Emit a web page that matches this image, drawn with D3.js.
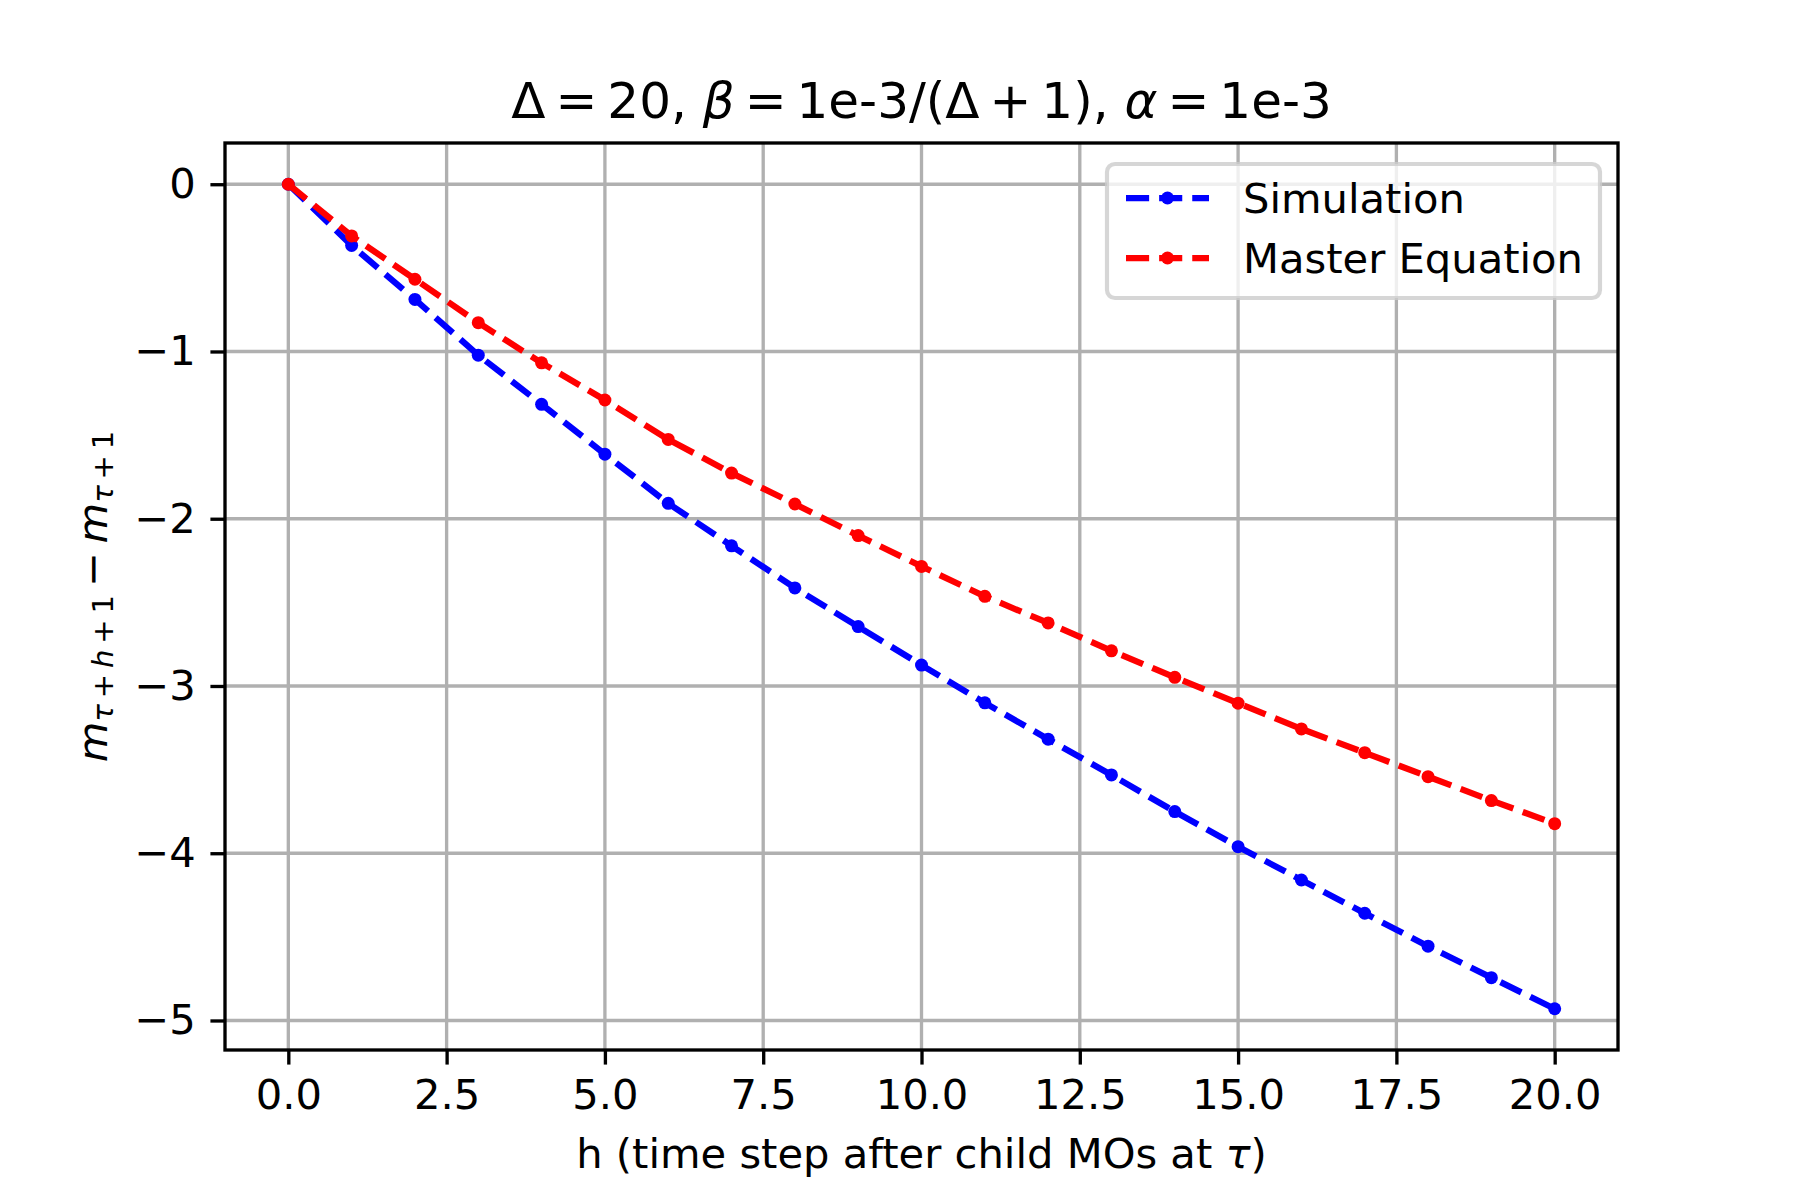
<!DOCTYPE html>
<html>
<head>
<meta charset="utf-8">
<script src="https://cdn.jsdelivr.net/npm/d3@7"></script>
<style>
  html, body { margin: 0; padding: 0; background: #fff; }
  svg { display: block; font-family: "DejaVu Sans", sans-serif; }
</style>
</head>
<body>
<div id="chart"></div>
<script>
// DATA
const steps      = [0, 1, 2, 3, 4, 5, 6, 7, 8, 9, 10, 11, 12, 13, 14, 15, 16, 17, 18, 19, 20];
const simulation = [0, -0.366, -0.689, -1.022, -1.316, -1.614, -1.908, -2.162, -2.414, -2.645, -2.875,
                    -3.101, -3.318, -3.532, -3.751, -3.961, -4.160, -4.359, -4.556, -4.744, -4.930];
const master     = [0, -0.309, -0.568, -0.828, -1.068, -1.290, -1.526, -1.727, -1.912, -2.101, -2.285,
                    -2.464, -2.623, -2.790, -2.948, -3.103, -3.257, -3.399, -3.542, -3.685, -3.823];
const x_ticks    = [0, 2.5, 5, 7.5, 10, 12.5, 15, 17.5, 20];
const y_ticks    = [0, -1, -2, -3, -4, -5];
const series_names  = ["Simulation", "Master Equation"];
const series_colors = ["#0000ff", "#ff0000"];

// LAYOUT (matplotlib-ish, 300 dpi)
const W = 1800, H = 1200;
const pt = 300 / 72;
const box = { left: 225, right: 1618, top: 143, bottom: 1050 };
const fs = 10 * pt;
const thin = "\u2009"; // math spacing around = and +

const svg = d3.select("#chart").append("svg")
  .attr("width", W).attr("height", H)
  .attr("viewBox", `0 0 ${W} ${H}`);

const padded = (lo, hi) => { const m = (hi - lo) * 0.05; return [lo - m, hi + m]; };
const all_y = simulation.concat(master);

const x = d3.scaleLinear().domain(padded(d3.min(steps), d3.max(steps)))
  .range([box.left, box.right]);
const y = d3.scaleLinear().domain(padded(d3.min(all_y), d3.max(all_y)))
  .range([box.bottom, box.top]);

// grid
const grid = svg.append("g").attr("stroke", "#b0b0b0").attr("stroke-width", 0.8 * pt);
grid.selectAll(".gx").data(x_ticks).enter().append("line")
  .attr("x1", d => x(d)).attr("x2", d => x(d))
  .attr("y1", box.top).attr("y2", box.bottom);
grid.selectAll(".gy").data(y_ticks).enter().append("line")
  .attr("y1", d => y(d)).attr("y2", d => y(d))
  .attr("x1", box.left).attr("x2", box.right);

// lines
const dash = `${3.7 * 1.5 * pt} ${1.6 * 1.5 * pt}`;
const line = d3.line().x((d, i) => x(steps[i])).y(d => y(d));

[simulation, master].forEach((vals, k) => {
  const g = svg.append("g");
  g.append("path")
    .attr("d", line(vals))
    .attr("fill", "none")
    .attr("stroke", series_colors[k])
    .attr("stroke-width", 1.5 * pt)
    .attr("stroke-dasharray", dash);
  g.selectAll("circle").data(vals).enter().append("circle")
    .attr("cx", (d, i) => x(steps[i]))
    .attr("cy", d => y(d))
    .attr("r", 6.5)
    .attr("fill", series_colors[k]);
});

// axes
const tick_len = 3.5 * pt;
const xAxis = svg.append("g")
  .attr("transform", `translate(0,${box.bottom})`)
  .call(d3.axisBottom(x).tickValues(x_ticks).tickFormat(d3.format(".1f"))
    .tickSize(tick_len).tickPadding(tick_len));
const yAxis = svg.append("g")
  .attr("transform", `translate(${box.left},0)`)
  .call(d3.axisLeft(y).tickValues(y_ticks).tickFormat(d3.format("d"))
    .tickSize(tick_len).tickPadding(tick_len));

[xAxis, yAxis].forEach(a => {
  a.select(".domain").remove();
  a.selectAll(".tick line").attr("stroke", "#000").attr("stroke-width", 0.8 * pt);
  a.selectAll(".tick text")
    .attr("fill", "#000")
    .style("font-family", "DejaVu Sans")
    .style("font-size", fs + "px");
});

// frame
svg.append("rect")
  .attr("x", box.left).attr("y", box.top)
  .attr("width", box.right - box.left).attr("height", box.bottom - box.top)
  .attr("fill", "none").attr("stroke", "#000").attr("stroke-width", 0.8 * pt);

// title
const title = svg.append("text")
  .attr("x", (box.left + box.right) / 2).attr("y", 118)
  .attr("text-anchor", "middle")
  .style("font-size", 12 * pt + "px");
title.append("tspan").text(`Δ${thin}=${thin}20, `);
title.append("tspan").attr("font-style", "italic").text("β");
title.append("tspan").text(`${thin}=${thin}1e-3/(Δ${thin}+${thin}1), `);
title.append("tspan").attr("font-style", "italic").text("α");
title.append("tspan").text(`${thin}=${thin}1e-3`);

// x label
const xlab = svg.append("text")
  .attr("x", (box.left + box.right) / 2).attr("y", 1168)
  .attr("text-anchor", "middle")
  .style("font-size", fs + "px");
xlab.append("tspan").text("h (time step after child MOs at ");
xlab.append("tspan").attr("font-style", "italic").text("τ");
xlab.append("tspan").text(")");

// y label
const sub = fs * 0.7, drop = 6.6;
const ylab = svg.append("text")
  .attr("transform", `translate(106.7,${(box.top + box.bottom) / 2}) rotate(-90)`)
  .attr("text-anchor", "middle")
  .style("font-size", fs + "px");
ylab.append("tspan").attr("font-style", "italic").text("m");
ylab.append("tspan").attr("dy", drop).style("font-size", sub + "px").attr("font-style", "italic").text("τ");
ylab.append("tspan").style("font-size", sub + "px").text(`${thin}+${thin}`);
ylab.append("tspan").style("font-size", sub + "px").attr("font-style", "italic").text("h");
ylab.append("tspan").style("font-size", sub + "px").text(`${thin}+${thin}1`);
ylab.append("tspan").attr("dy", -drop).text(`${thin}−${thin}`);
ylab.append("tspan").attr("font-style", "italic").text("m");
ylab.append("tspan").attr("dy", drop).style("font-size", sub + "px").attr("font-style", "italic").text("τ");
ylab.append("tspan").style("font-size", sub + "px").text(`${thin}+${thin}1`);

// LEGEND
const lg = { x: 1107, y: 164, w: 493, h: 134 };
const legend = svg.append("g");
legend.append("rect")
  .attr("x", lg.x).attr("y", lg.y).attr("width", lg.w).attr("height", lg.h)
  .attr("rx", 8).attr("ry", 8)
  .attr("fill", "#fff").attr("fill-opacity", 0.8)
  .attr("stroke", "#cccccc").attr("stroke-opacity", 0.8)
  .attr("stroke-width", 1.0 * pt);

const rows = legend.selectAll(".row").data(series_names).enter().append("g")
  .attr("transform", (d, i) => `translate(0,${198 + i * 60})`);
rows.append("line")
  .attr("x1", 1126).attr("x2", 1209).attr("y1", 0).attr("y2", 0)
  .attr("stroke", (d, i) => series_colors[i])
  .attr("stroke-width", 1.5 * pt)
  .attr("stroke-dasharray", dash);
rows.append("circle")
  .attr("cx", 1167.5).attr("cy", 0).attr("r", 6.5)
  .attr("fill", (d, i) => series_colors[i]);
rows.append("text")
  .attr("x", 1243).attr("y", 14.6)
  .style("font-size", fs + "px")
  .text(d => d);
</script>
</body>
</html>
